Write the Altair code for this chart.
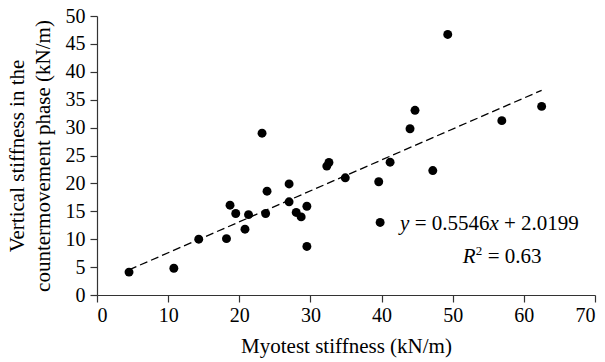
import altair as alt
import pandas as pd

# Data
myotest = [4.5, 10.8, 14.3, 18.2, 18.7, 19.5, 20.8, 21.3, 23.2, 23.7, 23.9,
           27.0, 27.0, 28.0, 28.7, 29.5, 29.5, 32.3, 32.6, 34.9, 39.6, 39.8,
           41.2, 44.0, 44.7, 47.2, 49.3, 56.9, 62.5]
vertical = [4.1, 4.8, 10.0, 10.1, 16.1, 14.6, 11.8, 14.4, 29.0, 14.6, 18.6,
            19.9, 16.7, 14.8, 14.0, 15.9, 8.7, 23.1, 23.75, 21.0, 20.3, 13.0,
            23.8, 29.8, 33.1, 22.3, 46.7, 31.25, 33.8]

slope = 0.5546
intercept = 2.0199
line_x = [4.5, 62.5]

x_ticks = [0, 10, 20, 30, 40, 50, 60, 70]
y_ticks = [0, 5, 10, 15, 20, 25, 30, 35, 40, 45, 50]

FONT = "Liberation Serif"

pts = pd.DataFrame({"x": myotest, "y": vertical})
fit = pd.DataFrame({"x": line_x, "y": [slope * v + intercept for v in line_x]})

xs = alt.Scale(domain=[0, 70], nice=False, zero=False)
ys = alt.Scale(domain=[0, 50], nice=False, zero=False)

x_axis = alt.Axis(
    values=x_ticks, title="Myotest stiffness (kN/m)", grid=False,
    tickSize=7, labelPadding=3, titlePadding=10, labelOverlap=False)
y_axis = alt.Axis(
    values=y_ticks, title=["Vertical stiffness in the", "countermovement phase (kN/m)"],
    grid=False, tickSize=7, labelPadding=5, titlePadding=12, labelOverlap=False,
    titleLineHeight=26)

x_enc = alt.X("x:Q", scale=xs, axis=x_axis)
y_enc = alt.Y("y:Q", scale=ys, axis=y_axis)

points = alt.Chart(pts).mark_circle(size=80, opacity=1, color="black").encode(x=x_enc, y=y_enc)

trend = alt.Chart(fit).mark_line(color="black", strokeDash=[8, 4], strokeWidth=1.3).encode(
    x=x_enc, y=y_enc)

# Equation annotation segments
eq_x, eq_y = 42.6, 11.6
r_x, r_y = 51.4, 5.7
ann = pd.DataFrame({
    "x": [eq_x] * 6 + [r_x] * 4,
    "y": [eq_y] * 6 + [r_y] * 4,
    "t": ["y", "=", "0.5546", "x", "+", "2.0199", "R", "2", "=", "0.63"],
    "dx": [0, 14.6, 31.6, 89.4, 104, 121, 0, 13.2, 25, 42],
    "dy": [0, 0, 0, 0, 0, 0, 0, -8, 0, 0],
    "style": ["italic", "normal", "normal", "italic", "normal", "normal",
              "italic", "normal", "normal", "normal"],
    "fs": [21, 21, 21, 21, 21, 21, 21, 13, 21, 21],
})

layers = []
for i, row in ann.iterrows():
    layers.append(
        alt.Chart(ann.iloc[[i]]).mark_text(
            align="left", baseline="alphabetic", font=FONT, fontSize=float(row["fs"]),
            fontStyle=row["style"], dx=float(row["dx"]), dy=float(row["dy"]), color="black"
        ).encode(x=x_enc, y=y_enc, text="t:N")
    )

chart = alt.layer(points, trend, *layers).properties(
    width=498, height=279,
    autosize=alt.AutoSizeParams(type="none"),
    padding={"left": 89, "top": 8, "right": 2, "bottom": 66},
).configure_view(stroke=None).configure_axis(
    domainColor="#333333", tickColor="#333333", domainWidth=1.2, tickWidth=1.2,
    labelFont=FONT, titleFont=FONT, labelFontSize=20, titleFontSize=21,
    labelColor="black", titleColor="black", titleFontWeight="normal",
)

chart.save("out.html", embed_options={"renderer": "svg", "actions": False})
